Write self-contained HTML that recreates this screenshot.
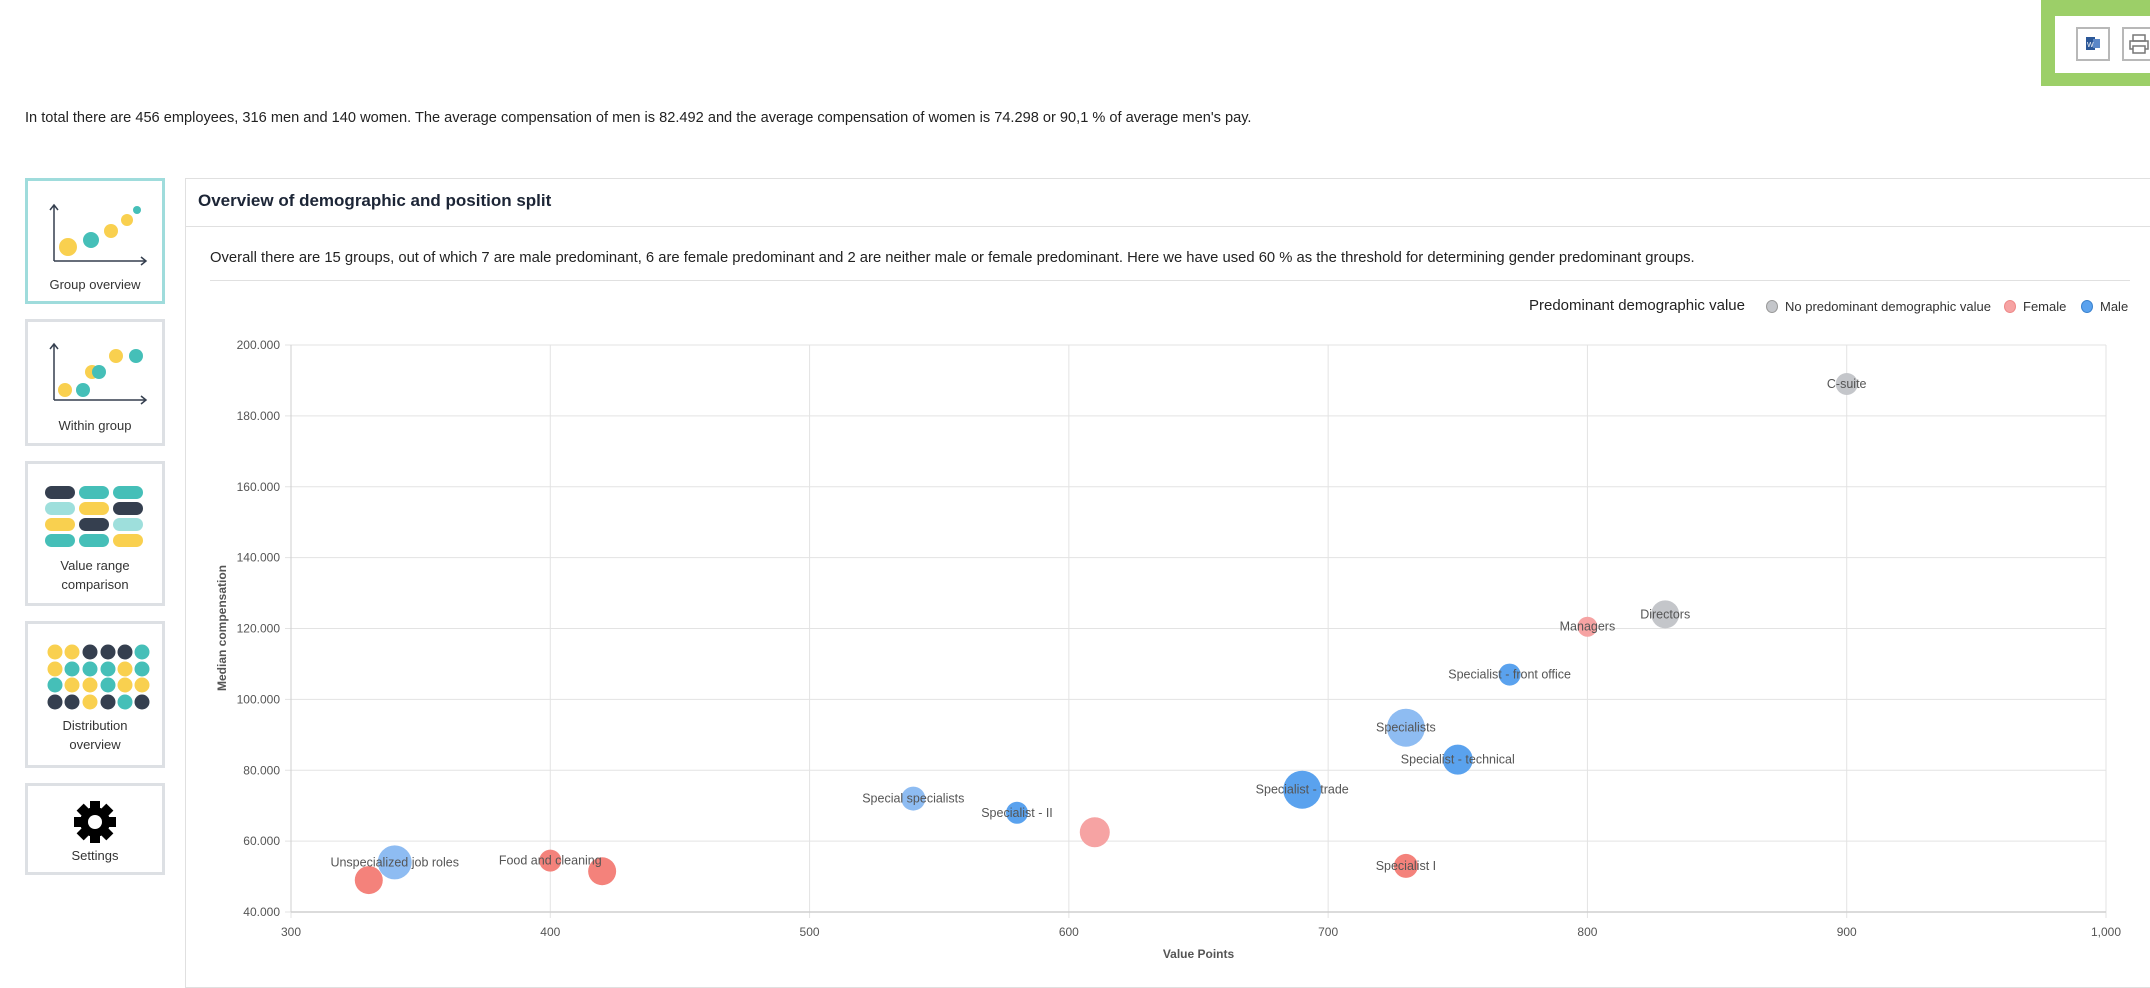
<!DOCTYPE html>
<html><head><meta charset="utf-8">
<style>
html,body{margin:0;padding:0;background:#fff;}
body{width:2150px;height:978px;position:relative;overflow:hidden;font-family:"Liberation Sans",Arial,sans-serif;color:#222;}
.abs{position:absolute;}
.card{position:absolute;left:25px;width:134px;border:3px solid #dde0e4;background:#fff;box-sizing:content-box;}
.card.active{border-color:#9fdcdc;}
.card .lbl{position:absolute;left:0;width:100%;text-align:center;font-size:13px;color:#333;line-height:19px;}
.card svg{position:absolute;left:0;top:0;}
</style></head>
<body>
<div class="abs" style="left:2041px;top:0;width:109px;height:86px;background:#9ccf68;"></div>
<div class="abs" style="left:2055px;top:16px;width:95px;height:57px;background:#fff;"></div>
<div class="abs" style="left:2076px;top:27px;width:30px;height:30px;border:2px solid #b8b8b8;">
 <svg width="30" height="30"><rect x="8" y="8" width="9" height="13" fill="#2b5797"/><rect x="15" y="10" width="7" height="9" fill="#5b87c7"/><text x="9" y="18" font-size="7" fill="#fff" font-family="Liberation Sans">W</text></svg>
</div>
<div class="abs" style="left:2122px;top:27px;width:30px;height:30px;border:2px solid #b8b8b8;">
 <svg width="30" height="30"><rect x="9" y="6" width="12" height="6" fill="none" stroke="#777" stroke-width="1.5"/><rect x="6" y="12" width="18" height="8" fill="none" stroke="#777" stroke-width="1.5"/><rect x="9" y="17" width="12" height="7" fill="#fff" stroke="#777" stroke-width="1.5"/></svg>
</div>

<div class="abs" style="left:25px;top:110px;font-size:14.6px;color:#222;white-space:nowrap;">In total there are 456 employees, 316 men and 140 women. The average compensation of men is 82.492 and the average compensation of women is 74.298 or 90,1 % of average men's pay.</div>

<!-- Sidebar -->
<div class="card active" style="top:178px;height:120px;">
 <svg width="134" height="120"><path d="M26,80 V24 M22,29 L26,24 L30,29 M26,80 H118 M113,76 L118,80 L113,84" stroke="#353f4f" stroke-width="1.5" fill="none"/>
 <circle cx="40" cy="66" r="9" fill="#f9d04f"/><circle cx="63" cy="59" r="8" fill="#45bfb8"/><circle cx="83" cy="50" r="7" fill="#f9d04f"/><circle cx="99" cy="39" r="6" fill="#f9d04f"/><circle cx="109" cy="29" r="4" fill="#45bfb8"/></svg>
 <div class="lbl" style="top:94px;">Group overview</div>
</div>
<div class="card" style="top:319px;height:121px;">
 <svg width="134" height="121"><path d="M26,78 V22 M22,27 L26,22 L30,27 M26,78 H118 M113,74 L118,78 L113,82" stroke="#353f4f" stroke-width="1.5" fill="none"/>
 <circle cx="37" cy="68" r="7" fill="#f9d04f"/><circle cx="55" cy="68" r="7" fill="#45bfb8"/><circle cx="64" cy="50" r="7" fill="#f9d04f"/><circle cx="71" cy="50" r="7" fill="#45bfb8"/><circle cx="88" cy="34" r="7" fill="#f9d04f"/><circle cx="108" cy="34" r="7" fill="#45bfb8"/></svg>
 <div class="lbl" style="top:94px;">Within group</div>
</div>
<div class="card" style="top:461px;height:139px;">
 <svg width="134" height="139">
 <g>
 <rect x="17" y="22" width="30" height="13" rx="6.5" fill="#353f4f"/><rect x="51" y="22" width="30" height="13" rx="6.5" fill="#45bfb8"/><rect x="85" y="22" width="30" height="13" rx="6.5" fill="#45bfb8"/>
 <rect x="17" y="38" width="30" height="13" rx="6.5" fill="#9edfdc"/><rect x="51" y="38" width="30" height="13" rx="6.5" fill="#f9d04f"/><rect x="85" y="38" width="30" height="13" rx="6.5" fill="#353f4f"/>
 <rect x="17" y="54" width="30" height="13" rx="6.5" fill="#f9d04f"/><rect x="51" y="54" width="30" height="13" rx="6.5" fill="#353f4f"/><rect x="85" y="54" width="30" height="13" rx="6.5" fill="#9edfdc"/>
 <rect x="17" y="70" width="30" height="13" rx="6.5" fill="#45bfb8"/><rect x="51" y="70" width="30" height="13" rx="6.5" fill="#45bfb8"/><rect x="85" y="70" width="30" height="13" rx="6.5" fill="#f9d04f"/>
 </g></svg>
 <div class="lbl" style="top:92px;">Value range<br>comparison</div>
</div>
<div class="card" style="top:621px;height:141px;">
 <svg width="134" height="141" id="distsvg"></svg>
 <div class="lbl" style="top:92px;">Distribution<br>overview</div>
</div>
<div class="card" style="top:783px;height:86px;">
 <svg width="134" height="86"><g transform="translate(67,36)">
 <g fill="#000"><rect x="-5" y="-21" width="10" height="42"/><rect x="-5" y="-21" width="10" height="42" transform="rotate(45)"/><rect x="-5" y="-21" width="10" height="42" transform="rotate(90)"/><rect x="-5" y="-21" width="10" height="42" transform="rotate(135)"/></g>
 <circle r="15" fill="#000"/><circle r="7" fill="#fff"/></g></svg>
 <div class="lbl" style="top:60px;">Settings</div>
</div>

<!-- Main panel -->
<div class="abs" style="left:185px;top:178px;width:1970px;height:810px;border:1px solid #e0e0e0;box-sizing:border-box;"></div>
<div class="abs" style="left:185px;top:226px;width:1965px;height:1px;background:#e0e0e0;"></div>
<div class="abs" style="left:198px;top:191px;font-size:17px;font-weight:bold;color:#1c2536;white-space:nowrap;">Overview of demographic and position split</div>
<div class="abs" style="left:210px;top:250px;font-size:14.8px;color:#222;white-space:nowrap;">Overall there are 15 groups, out of which 7 are male predominant, 6 are female predominant and 2 are neither male or female predominant. Here we have used 60 % as the threshold for determining gender predominant groups.</div>
<div class="abs" style="left:210px;top:280px;width:1920px;height:1px;background:#e0e0e0;"></div>

<!-- Legend -->
<div class="abs" style="left:1529px;top:297px;font-size:15px;color:#222;white-space:nowrap;">Predominant demographic value</div>
<div class="abs" style="left:1766px;top:299px;font-size:13px;color:#333;white-space:nowrap;"><span style="display:inline-block;width:10px;height:11px;border-radius:50%;background:#c4c6ca;border:1px solid #999;vertical-align:-2px;margin-right:7px;"></span>No predominant demographic value</div>
<div class="abs" style="left:2004px;top:299px;font-size:13px;color:#333;white-space:nowrap;"><span style="display:inline-block;width:10px;height:11px;border-radius:50%;background:#f6a3a3;border:1px solid #e88;vertical-align:-2px;margin-right:7px;"></span>Female</div>
<div class="abs" style="left:2081px;top:299px;font-size:13px;color:#333;white-space:nowrap;"><span style="display:inline-block;width:10px;height:11px;border-radius:50%;background:#5aa2ee;border:1px solid #3a82ce;vertical-align:-2px;margin-right:7px;"></span>Male</div>

<svg class="abs" id="chart" style="left:0;top:0;" width="2150" height="978"></svg>

<script>
(function(){
  var colorsDist = [["y","y","d","d","d","t"],["y","t","t","t","y","t"],["t","y","y","t","y","y"],["d","d","y","d","t","d"]];
  var cmap={y:"#f9d04f",t:"#45bfb8",d:"#353f4f"};
  var s=document.getElementById('distsvg');
  var xs=[27,44,62,80,97,114], ys=[28,45,61,78];
  colorsDist.forEach(function(row,r){row.forEach(function(c,i){
    var e=document.createElementNS('http://www.w3.org/2000/svg','circle');
    e.setAttribute('cx',xs[i]);e.setAttribute('cy',ys[r]);e.setAttribute('r',7.5);e.setAttribute('fill',cmap[c]);s.appendChild(e);
  });});
})();

const groupNames = ["C-suite","Directors","Managers","Specialist - front office","Specialists","Specialist - technical","Specialist - trade","Specialist I","","Specialist - II","Special specialists","Unspecialized job roles","","Food and cleaning",""];
const valuePoints = [900,830,800,770,730,750,690,730,610,580,540,340,330,400,420];
const medianComp = [189000,124000,120500,107000,92000,83000,74500,53000,62500,68000,72000,54000,49000,54500,51500];
const groupSize = [11,14,10,11,19,15,19,12,15,11,12,17,14,11,14];
const groupGender = ["none","none","female","male","male","male","male","female","female","male","male","male","female","female","female"];
const groupShade = ["n","n","l","d","l","d","d","d","l","d","l","l","d","d","d"];
const xTicks = [300,400,500,600,700,800,900,1000];
const xTickLabels = ["300","400","500","600","700","800","900","1,000"];
const yTicks = [40000,60000,80000,100000,120000,140000,160000,180000,200000];
const yTickLabels = ["40.000","60.000","80.000","100.000","120.000","140.000","160.000","180.000","200.000"];

const L=291,R=2106,T=345,B=912;
function xs(v){return L+(v-300)/700*(R-L);}
function ys(v){return B-(v-40000)/160000*(B-T);}
const svg=document.getElementById('chart');
const NS='http://www.w3.org/2000/svg';
function mk(tag,attrs){const e=document.createElementNS(NS,tag);for(const k in attrs)e.setAttribute(k,attrs[k]);svg.appendChild(e);return e;}

xTicks.forEach(function(v,i){
  const g=mk('line',{x1:xs(v),x2:xs(v),y1:T,y2:B+6,stroke:'#e3e3e3','stroke-width':1});
  
  
  const t=mk('text',{x:xs(v),y:B+24,'text-anchor':'middle','font-size':12,fill:'#555','font-family':'Liberation Sans, sans-serif'});
  t.textContent=xTickLabels[i];
  
  
});
yTicks.forEach(function(v,i){
  const g=mk('line',{x1:L-6,x2:R,y1:ys(v),y2:ys(v),stroke:'#e3e3e3','stroke-width':1});
  
  
  const t=mk('text',{x:L-11,y:ys(v)+4,'text-anchor':'end','font-size':12,fill:'#555','font-family':'Liberation Sans, sans-serif'});
  t.textContent=yTickLabels[i];
  
  
});
const ax=mk('line',{x1:L,x2:R,y1:B,y2:B,stroke:'#cfcfcf','stroke-width':1.5});


const ay=mk('line',{x1:L,x2:L,y1:T,y2:B,stroke:'#cfcfcf','stroke-width':1});



const xt=mk('text',{x:(L+R)/2,y:958,'text-anchor':'middle','font-size':12,'font-weight':'bold',fill:'#555','font-family':'Liberation Sans, sans-serif'});
xt.textContent='Value Points';


const yt=mk('text',{x:0,y:0,'text-anchor':'middle','font-size':12,'font-weight':'bold',fill:'#555','font-family':'Liberation Sans, sans-serif',transform:'translate(226,628) rotate(-90)'});
yt.textContent='Median compensation';



const colors={male:{d:'#5aa2ee',l:'#8ebcf2'},female:{d:'#f4827b',l:'#f6a3a3'},none:{n:'#c4c6ca'}};
valuePoints.forEach(function(v,i){
  const c=mk('circle',{cx:xs(v),cy:ys(medianComp[i]),r:groupSize[i],fill:colors[groupGender[i]][groupShade[i]]});
  
  
});
valuePoints.forEach(function(v,i){
  if(!groupNames[i])return;
  const t=mk('text',{x:xs(v),y:ys(medianComp[i])+4,'text-anchor':'middle','font-size':12.5,fill:'#555','font-family':'Liberation Sans, sans-serif'});
  t.textContent=groupNames[i];
  
  
});
</script>
</body></html>
